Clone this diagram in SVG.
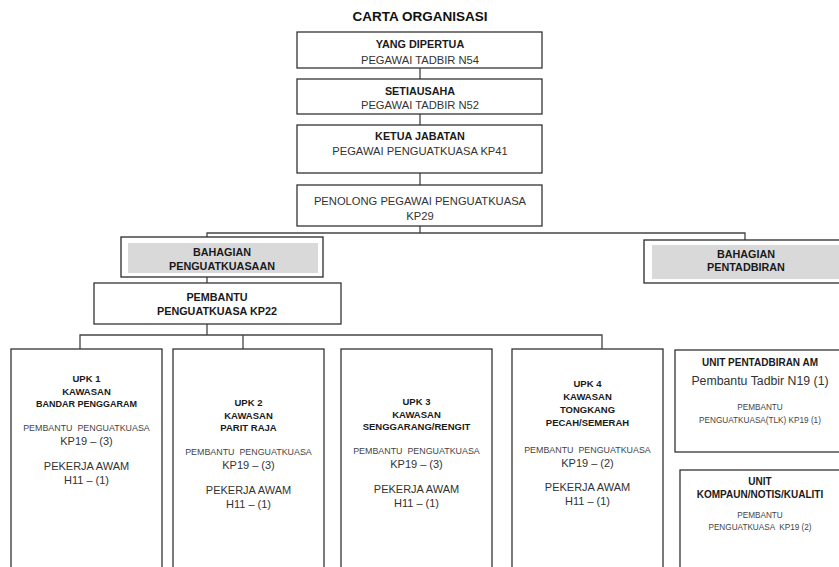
<svg xmlns="http://www.w3.org/2000/svg" width="839" height="567" viewBox="0 0 839 567">
<style>
  text { font-family: "Liberation Sans", Arial, sans-serif; text-anchor: middle; }
  .title { font-size: 13.5px; font-weight: bold; fill: #111; }
  .box { fill: #fff; stroke: #333; stroke-width: 1.3; }
  .sec { fill: #fff; stroke: #2a2a2a; stroke-width: 1.3; }
  .shade { fill: #d9d9d9; stroke: none; }
  .conn path { fill: none; stroke: #444; stroke-width: 1.3; }
  .tb { font-size: 10.8px; font-weight: bold; fill: #1a1a1a; }
  .tr { font-size: 11.2px; fill: #333; }
  .ub { font-size: 9.5px; font-weight: bold; fill: #1a1a1a; }
  .us { font-size: 8.9px; fill: #444; }
  .um { font-size: 11px; fill: #333; }
  .rs { font-size: 8.2px; fill: #444; }
  .rm { font-size: 12.3px; fill: #333; }
  .rb { font-size: 10px; font-weight: bold; fill: #1a1a1a; }
</style>

<text class="title" x="420" y="21">CARTA ORGANISASI</text>

<g class="conn" id="connectors">
  <path d="M420 68 V79"/>
  <path d="M420 114 V125"/>
  <path d="M420 173 V185"/>
  <path d="M420 226 V233"/>
  <path d="M207 237 V233 H745 V240"/>
  <path d="M207 277 V283"/>
  <path d="M207 324 V335"/>
  <path d="M80 349 V335 H602 V349"/>
  <path d="M243 335 V349"/>
</g>

<g id="yang-dipertua">
  <rect class="box" x="297" y="32" width="245" height="36"/>
  <text class="tb" x="420" y="48">YANG DIPERTUA</text>
  <text class="tr" x="420" y="63.5">PEGAWAI TADBIR N54</text>
</g>

<g id="setiausaha">
  <rect class="box" x="297" y="79" width="245" height="35"/>
  <text class="tb" x="420" y="95">SETIAUSAHA</text>
  <text class="tr" x="420" y="109">PEGAWAI TADBIR N52</text>
</g>

<g id="ketua-jabatan">
  <rect class="box" x="297" y="125" width="245" height="48"/>
  <text class="tb" x="420" y="139.5">KETUA JABATAN</text>
  <text class="tr" x="420" y="155">PEGAWAI PENGUATKUASA KP41</text>
</g>

<g id="penolong">
  <rect class="box" x="297" y="185" width="245" height="41"/>
  <text class="tr" x="420" y="204.5">PENOLONG PEGAWAI PENGUATKUASA</text>
  <text class="tr" x="420" y="220">KP29</text>
</g>

<g id="bahagian-penguatkuasaan">
  <rect class="sec" x="121" y="237" width="202" height="40"/>
  <rect class="shade" x="128" y="243" width="190" height="30"/>
  <text class="tb" x="222" y="256">BAHAGIAN</text>
  <text class="tb" x="222" y="270">PENGUATKUASAAN</text>
</g>

<g id="bahagian-pentadbiran">
  <rect class="sec" x="644" y="240" width="210" height="43"/>
  <rect class="shade" x="652" y="245" width="200" height="34"/>
  <text class="tb" x="746" y="258">BAHAGIAN</text>
  <text class="tb" x="746" y="271">PENTADBIRAN</text>
</g>

<g id="pembantu-kp22">
  <rect class="box" x="94" y="283" width="247" height="41"/>
  <text class="tb" x="217" y="301">PEMBANTU</text>
  <text class="tb" x="217" y="315">PENGUATKUASA KP22</text>
</g>

<g id="upk1">
  <rect class="box" x="11" y="349" width="151" height="240"/>
  <text class="ub" x="86.5" y="382.4">UPK 1</text>
  <text class="ub" x="86.5" y="395.4">KAWASAN</text>
  <text class="ub" x="86.5" y="407.4" style="font-size:9px">BANDAR PENGGARAM</text>
  <text class="us" x="86.5" y="431.2" xml:space="preserve">PEMBANTU  PENGUATKUASA</text>
  <text class="um" x="86.5" y="445">KP19 – (3)</text>
  <text class="um" x="86.5" y="470">PEKERJA AWAM</text>
  <text class="um" x="86.5" y="483.5">H11 – (1)</text>
</g>

<g id="upk2">
  <rect class="box" x="173" y="349" width="151" height="240"/>
  <text class="ub" x="248.5" y="406.4">UPK 2</text>
  <text class="ub" x="248.5" y="419.4">KAWASAN</text>
  <text class="ub" x="248.5" y="431.4">PARIT RAJA</text>
  <text class="us" x="248.5" y="455.2" xml:space="preserve">PEMBANTU  PENGUATKUASA</text>
  <text class="um" x="248.5" y="469">KP19 – (3)</text>
  <text class="um" x="248.5" y="494">PEKERJA AWAM</text>
  <text class="um" x="248.5" y="507.5">H11 – (1)</text>
</g>

<g id="upk3">
  <rect class="box" x="341" y="349" width="151" height="240"/>
  <text class="ub" x="416.5" y="405.4">UPK 3</text>
  <text class="ub" x="416.5" y="418.4">KAWASAN</text>
  <text class="ub" x="416.5" y="430.4">SENGGARANG/RENGIT</text>
  <text class="us" x="416.5" y="454.2" xml:space="preserve">PEMBANTU  PENGUATKUASA</text>
  <text class="um" x="416.5" y="468">KP19 – (3)</text>
  <text class="um" x="416.5" y="493">PEKERJA AWAM</text>
  <text class="um" x="416.5" y="506.5">H11 – (1)</text>
</g>

<g id="upk4">
  <rect class="box" x="512" y="349" width="151" height="240"/>
  <text class="ub" x="587.5" y="387.4">UPK 4</text>
  <text class="ub" x="587.5" y="400.4">KAWASAN</text>
  <text class="ub" x="587.5" y="413.4">TONGKANG</text>
  <text class="ub" x="587.5" y="426.4">PECAH/SEMERAH</text>
  <text class="us" x="587.5" y="453.2" xml:space="preserve">PEMBANTU  PENGUATKUASA</text>
  <text class="um" x="587.5" y="467">KP19 – (2)</text>
  <text class="um" x="587.5" y="491">PEKERJA AWAM</text>
  <text class="um" x="587.5" y="505">H11 – (1)</text>
</g>

<g id="unit-pentadbiran-am">
  <rect class="box" x="675" y="350" width="180" height="102"/>
  <text class="rb" x="760" y="365.6">UNIT PENTADBIRAN AM</text>
  <text class="rm" x="760" y="385.4">Pembantu Tadbir N19 (1)</text>
  <text class="rs" x="760" y="410">PEMBANTU</text>
  <text class="rs" x="760" y="423">PENGUATKUASA(TLK) KP19 (1)</text>
</g>

<g id="unit-kompaun">
  <rect class="box" x="680" y="470" width="180" height="120"/>
  <text class="rb" x="760" y="484.6">UNIT</text>
  <text class="rb" x="760" y="497.6">KOMPAUN/NOTIS/KUALITI</text>
  <text class="rs" x="760" y="518">PEMBANTU</text>
  <text class="rs" x="760" y="530" xml:space="preserve">PENGUATKUASA  KP19 (2)</text>
</g>
</svg>
